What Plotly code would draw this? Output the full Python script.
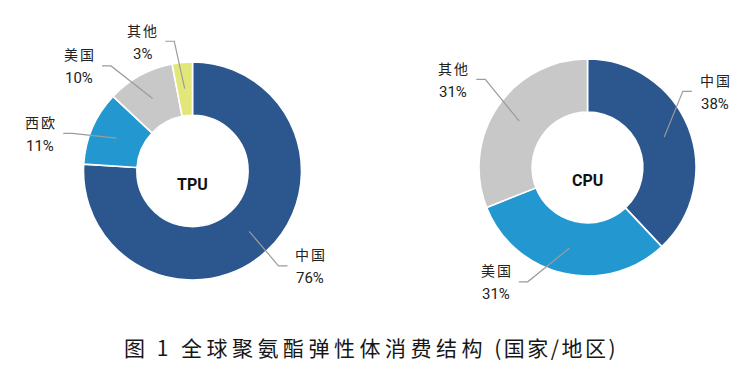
import math
import plotly.graph_objects as go

# ---------------- data ----------------
tpu_labels = ["中国", "西欧", "美国", "其他"]
tpu_values = [76, 11, 10, 3]
cpu_labels = ["中国", "美国", "其他"]
cpu_values = [38, 31, 31]
title_parts = ["图 1", "\u00a0全球聚氨酯弹性体消费结构", "\u00a0(国家/地区)"]

# ---------------- styles / layout ----------------
W, H = 751, 372
OFF = 8  # page body margin offset of the plot div
DARK_BLUE = "#2B578E"
LIGHT_BLUE = "#2397CF"
GRAY = "#C8C8C8"
YELLOW = "#E3E77A"
LINE_GRAY = "#9C9C9C"
TEXT = "#222222"
CJK = "Noto Sans CJK SC"
NUMF = "Roboto, Liberation Sans, sans-serif"
HOLE = 0.51
TITLE_SPACING = [3.5, 4.5, 2.5]

tpu_colors = [DARK_BLUE, LIGHT_BLUE, GRAY, YELLOW]
cpu_colors = [DARK_BLUE, LIGHT_BLUE, GRAY]

charts = [
    dict(name="TPU", labels=tpu_labels, values=tpu_values, colors=tpu_colors,
         c=(192.5, 171.0), r=109.0,
         # leader elbow: (angle shift from slice middle, elbow radius)
         elbows=[(1.0, 128), (-6.0, 126), (-9.0, 133), (-2.6, 131)]),
    dict(name="CPU", labels=cpu_labels, values=cpu_values, colors=cpu_colors,
         c=(587.5, 167.5), r=108.5,
         elbows=[(-17.0, 122), (15.0, 129), (6.6, 135)]),
]

TAIL = 9
INNER_FRAC = 0.76
LABEL_GAP = 23


def px(x):
    return (x - OFF) / W


def py(y):
    return 1 - (y - OFF) / H


def polar(c, r, ang):
    a = math.radians(ang)
    return c[0] + r * math.sin(a), c[1] - r * math.cos(a)


fig = go.Figure()
shapes = []
annotations = []

for ch in charts:
    cx, cy = ch["c"]
    R = ch["r"]
    fig.add_trace(go.Pie(
        labels=ch["labels"], values=ch["values"], sort=False,
        direction="clockwise", rotation=0, hole=HOLE,
        marker=dict(colors=ch["colors"], line=dict(color="white", width=1.6)),
        textinfo="none", showlegend=False, hoverinfo="label+percent",
        domain=dict(x=[px(cx - R), px(cx + R)], y=[py(cy + R), py(cy - R)]),
    ))
    total = sum(ch["values"])
    cum = 0
    for lab, v, (dang, re) in zip(ch["labels"], ch["values"], ch["elbows"]):
        mid = 360 * (cum + v / 2) / total
        cum += v
        x0, y0 = polar((cx, cy), R * INNER_FRAC, mid)
        x1, y1 = polar((cx, cy), re, mid + dang)
        side = 1 if x1 > cx else -1
        x2, y2 = x1 + side * TAIL, y1
        shapes.append(dict(
            type="path", xref="paper", yref="paper",
            path=f"M {px(x0)} {py(y0)} L {px(x1)} {py(y1)} L {px(x2)} {py(y2)}",
            line=dict(color=LINE_GRAY, width=1.2),
        ))
        tx = x2 + side * LABEL_GAP
        pct = round(100 * v / total)
        annotations.append(dict(
            x=px(tx), y=py(y2 - 11.5), xref="paper", yref="paper",
            text=f"<span style='letter-spacing:2px'>{lab}</span>",
            showarrow=False, xanchor="center", yanchor="middle", xshift=1,
            font=dict(family=CJK, size=14, color=TEXT)))
        annotations.append(dict(
            x=px(tx), y=py(y2 + 12.5), xref="paper", yref="paper",
            text=f"{pct}%", showarrow=False, xanchor="center", yanchor="middle",
            font=dict(family=NUMF, size=15, color=TEXT)))
    annotations.append(dict(
        x=px(cx), y=py(cy + 13), xref="paper", yref="paper",
        text=f"<b>{ch['name']}</b>", showarrow=False,
        xanchor="center", yanchor="middle",
        font=dict(family=NUMF, size=16, color="#111111")))

title_html = "".join(
    f"<span style='letter-spacing:{ls}px'>{t}</span>"
    for t, ls in zip(title_parts, TITLE_SPACING))
annotations.append(dict(
    x=px(122), y=py(347), xref="paper", yref="paper",
    text=title_html, showarrow=False, xanchor="left", yanchor="middle",
    font=dict(family=CJK, size=21, color="#161616")))

fig.update_layout(
    width=W, height=H, autosize=False,
    margin=dict(l=0, r=0, t=0, b=0),
    paper_bgcolor="white", plot_bgcolor="white",
    shapes=shapes, annotations=annotations,
)

fig.write_html("out.html")
